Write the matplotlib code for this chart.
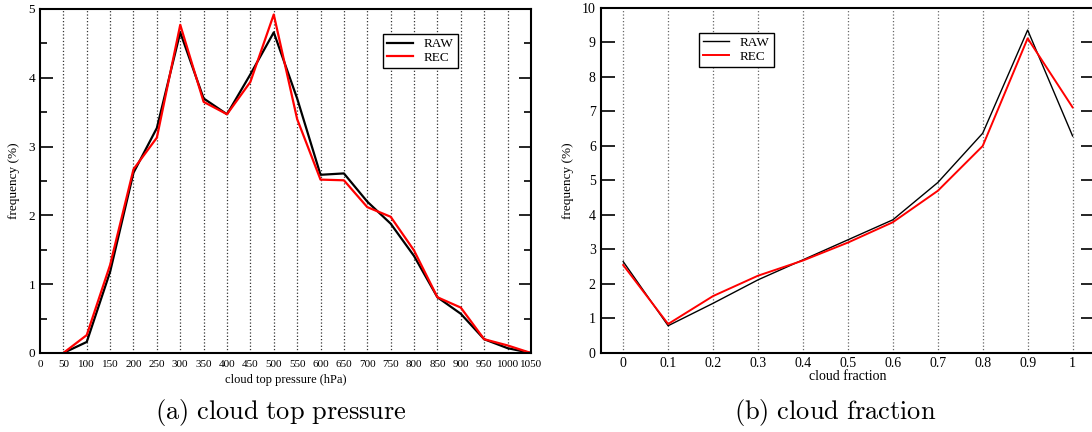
import numpy as np
import matplotlib
matplotlib.use("Agg")
import matplotlib.pyplot as plt
from matplotlib.ticker import MultipleLocator

plt.rcParams['font.family'] = ['Liberation Serif', 'DejaVu Serif']
plt.rcParams['mathtext.fontset'] = 'cm'

# (a) cloud top pressure
ctp = [50, 100, 150, 200, 250, 300, 350, 400, 450, 500, 550,
       600, 650, 700, 750, 800, 850, 900, 950, 1000, 1050]
ctp_raw = [0.0, 0.16, 1.18, 2.62, 3.27, 4.66, 3.70, 3.47, 4.05, 4.66, 3.70,
           2.59, 2.61, 2.20, 1.88, 1.41, 0.81, 0.57, 0.20, 0.07, 0.0]
ctp_rec = [0.0, 0.26, 1.28, 2.67, 3.13, 4.77, 3.65, 3.47, 3.94, 4.92, 3.40,
           2.52, 2.51, 2.12, 1.98, 1.49, 0.81, 0.66, 0.20, 0.11, 0.0]

# (b) cloud fraction
cf = [0.0, 0.1, 0.2, 0.3, 0.4, 0.5, 0.6, 0.7, 0.8, 0.9, 1.0]
cf_raw = [2.65, 0.79, 1.44, 2.12, 2.70, 3.28, 3.86, 4.94, 6.37, 9.36, 6.29]
cf_rec = [2.55, 0.84, 1.65, 2.24, 2.68, 3.20, 3.79, 4.70, 6.00, 9.12, 7.12]

fig = plt.figure(figsize=(10.92, 4.32), dpi=100)
ax1 = fig.add_axes([0.0366, 0.1829, 0.4496, 0.7963])
ax2 = fig.add_axes([0.5501, 0.1829, 0.4527, 0.7986])

# left panel
ax1.plot(ctp, ctp_raw, color='black', lw=1.6, label='RAW')
ax1.plot(ctp, ctp_rec, color='red', lw=1.6, label='REC')
ax1.set_xlim(0, 1050)
ax1.set_ylim(0, 5)
ax1.set_xticks(np.arange(0, 1051, 50))
ax1.yaxis.set_major_locator(MultipleLocator(1))
ax1.yaxis.set_minor_locator(MultipleLocator(0.5))
ax1.tick_params(axis='x', length=0, pad=5, labelsize=8)
ax1.tick_params(axis='y', which='major', direction='in', length=9, width=1.2,
                right=True, labelsize=9.5)
ax1.tick_params(axis='y', which='minor', direction='in', length=5, width=1.2,
                right=True)
for x in range(50, 1050, 50):
    ax1.axvline(x, color='0.2', ls=':', lw=0.9, zorder=0)
ax1.set_xlabel('cloud top pressure (hPa)', fontsize=9, labelpad=4)
ax1.set_ylabel('frequency (%)', fontsize=9.5, labelpad=6)
leg1 = ax1.legend(loc='upper left', bbox_to_anchor=(0.699, 0.927), fontsize=9.5,
                  fancybox=False, edgecolor='black', framealpha=1,
                  handlelength=2.0, borderpad=0.3, labelspacing=0.1,
                  borderaxespad=0)
leg1.get_frame().set_linewidth(1.0)

# right panel
ax2.plot(cf, cf_raw, color='black', lw=1.0, label='RAW')
ax2.plot(cf, cf_rec, color='red', lw=1.4, label='REC')
ax2.set_xlim(-0.05, 1.05)
ax2.set_ylim(0, 10)
ax2.set_xticks(cf)
ax2.set_xticklabels(['0', '0.1', '0.2', '0.3', '0.4', '0.5', '0.6', '0.7', '0.8', '0.9', '1'])
ax2.yaxis.set_major_locator(MultipleLocator(1))
ax2.tick_params(axis='x', length=0, pad=3, labelsize=10)
ax2.tick_params(axis='y', which='major', direction='in', length=10, width=1.2,
                right=True, labelsize=10)
for x in cf:
    ax2.axvline(x, color='0.4', ls=':', lw=0.9, zorder=0)
ax2.set_xlabel('cloud fraction', fontsize=10, labelpad=0)
ax2.set_ylabel('frequency (%)', fontsize=9.5, labelpad=6)
leg2 = ax2.legend(loc='upper left', bbox_to_anchor=(0.199, 0.928), fontsize=9.5,
                  fancybox=False, edgecolor='black', framealpha=1,
                  handlelength=2.0, borderpad=0.3, labelspacing=0.1,
                  borderaxespad=0)
leg2.get_frame().set_linewidth(1.0)

for ax in (ax1, ax2):
    for s in ax.spines.values():
        s.set_linewidth(1.5)

fig.text(0.2569, 0.046, r'$\mathrm{(a)\ cloud\ top\ pressure}$', fontsize=19,
         ha='center', va='center')
fig.text(0.7647, 0.046, r'$\mathrm{(b)\ cloud\ fraction}$', fontsize=19,
         ha='center', va='center')

fig.savefig('out.png', dpi=100)
